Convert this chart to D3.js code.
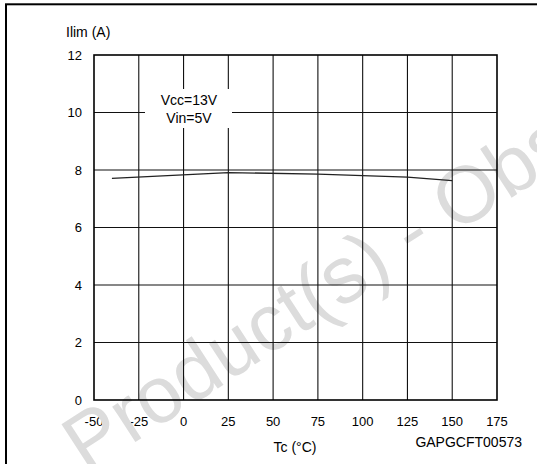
<!DOCTYPE html>
<html><head><meta charset="utf-8">
<script src="https://cdn.jsdelivr.net/npm/d3@7"></script>
<style>
html,body{margin:0;padding:0;background:#fff;}
text{font-family:"Liberation Sans",Arial,Helvetica,sans-serif;}
</style></head>
<body>
<svg id="c" width="537" height="464"></svg>
<script>
// Data
const tempC = [-40, 25, 75, 125, 150];
const ilimA = [7.71, 7.91, 7.86, 7.75, 7.63];
const xTicks = [-50, -25, 0, 25, 50, 75, 100, 125, 150, 175];
const yTicks = [0, 2, 4, 6, 8, 10, 12];
const annotation = ["Vcc=13V", "Vin=5V"];
const yTitle = "Ilim (A)";
const xTitle = "Tc (°C)";
const codeLabel = "GAPGCFT00573";
const watermark = "Product(s) - Obsolete";

const svg = d3.select("#c");
const x = d3.scaleLinear().domain([-50, 175]).range([94, 497]);
const y = d3.scaleLinear().domain([0, 12]).range([400, 55]);

// outer frame (left & top visible)
svg.append("rect").attr("x", 6).attr("y", 4.3).attr("width", 600).attr("height", 600)
  .attr("fill", "none").attr("stroke", "#000").attr("stroke-width", 2);

// tick labels (drawn under the watermark)
svg.append("g").selectAll("text").data(xTicks).join("text")
  .attr("x", d => x(d)).attr("y", 426).attr("text-anchor", "middle")
  .attr("font-size", 13).attr("fill", "#000").text(d => d);
svg.append("g").selectAll("text").data(yTicks).join("text")
  .attr("x", 82).attr("y", d => y(d)).attr("dy", "0.36em").attr("text-anchor", "end")
  .attr("font-size", 13).attr("fill", "#000").text(d => d);

svg.append("text").attr("x", 66).attr("y", 37).attr("font-size", 14).text(yTitle);
svg.append("text").attr("x", 295).attr("y", 452).attr("text-anchor", "middle").attr("font-size", 14).text(xTitle);
svg.append("text").attr("x", 522).attr("y", 447).attr("text-anchor", "end").attr("font-size", 14).text(codeLabel);

// watermark
svg.append("text")
  .attr("font-size", 80).attr("fill", "#dcdcdc")
  .attr("transform", "translate(86,474) rotate(-33)")
  .text(watermark);

// grid
const grid = svg.append("g");
grid.selectAll("line.v").data(xTicks.slice(1, -1)).join("line")
  .attr("x1", d => x(d)).attr("x2", d => x(d)).attr("y1", y(12)).attr("y2", y(0))
  .attr("stroke", "#111").attr("stroke-width", 1.1);
grid.selectAll("line.h").data(yTicks.slice(1, -1)).join("line")
  .attr("x1", x(-50)).attr("x2", x(175)).attr("y1", d => y(d)).attr("y2", d => y(d))
  .attr("stroke", "#111").attr("stroke-width", 1.1);

// annotation box
svg.append("rect").attr("x", 145).attr("y", 89).attr("width", 87).attr("height", 39).attr("fill", "#fff");
svg.append("g").selectAll("text").data(annotation).join("text")
  .attr("x", 189).attr("y", (d, i) => 105 + i * 18).attr("text-anchor", "middle")
  .attr("font-size", 14).text(d => d);

// plot frame
svg.append("rect").attr("x", x(-50)).attr("y", y(12))
  .attr("width", x(175) - x(-50)).attr("height", y(0) - y(12))
  .attr("fill", "none").attr("stroke", "#000").attr("stroke-width", 1.6);

// curve
const pts = tempC.map((t, i) => [t, ilimA[i]]);
svg.append("path").datum(pts)
  .attr("d", d3.line().x(d => x(d[0])).y(d => y(d[1])))
  .attr("fill", "none").attr("stroke", "#222").attr("stroke-width", 1.3);
</script>
</body></html>
